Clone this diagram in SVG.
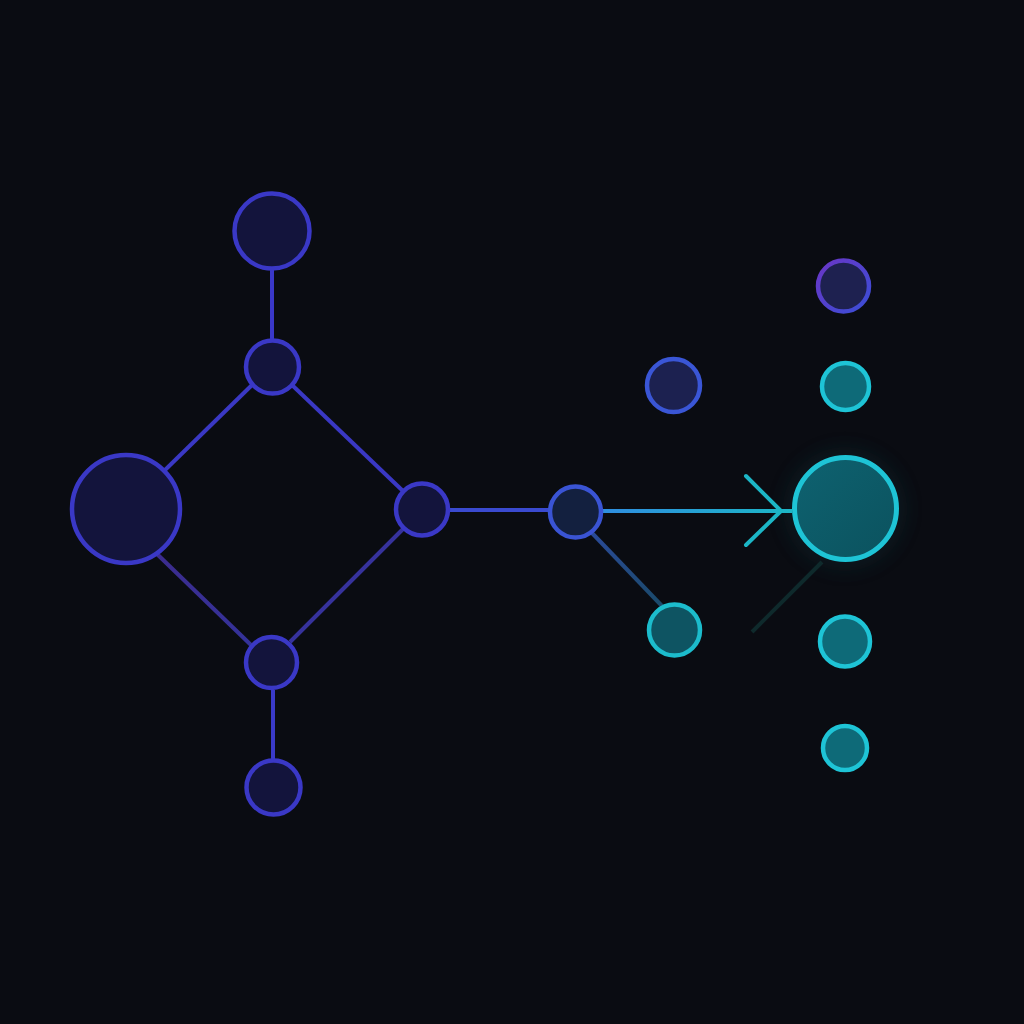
<svg xmlns="http://www.w3.org/2000/svg" width="1024" height="1024" viewBox="0 0 1024 1024">
  <defs>
    <linearGradient id="gArrow" x1="603" y1="0" x2="790" y2="0" gradientUnits="userSpaceOnUse">
      <stop offset="0" stop-color="#2f8ee0"/>
      <stop offset="1" stop-color="#1cb6c6"/>
    </linearGradient>
    <linearGradient id="gGI" x1="592" y1="533" x2="662" y2="605" gradientUnits="userSpaceOnUse">
      <stop offset="0" stop-color="#2a4a98"/>
      <stop offset="1" stop-color="#1a4a6a"/>
    </linearGradient>
    <linearGradient id="gCE" x1="157" y1="555" x2="250" y2="644" gradientUnits="userSpaceOnUse">
      <stop offset="0" stop-color="#3c2c8e"/>
      <stop offset="1" stop-color="#34329a"/>
    </linearGradient>
    <linearGradient id="gL" x1="0" y1="0" x2="1" y2="1">
      <stop offset="0" stop-color="#6a36c6"/>
      <stop offset="1" stop-color="#3a4ed6"/>
    </linearGradient>
    <linearGradient id="gH" x1="0" y1="0" x2="1" y2="1">
      <stop offset="0" stop-color="#0e6270"/>
      <stop offset="1" stop-color="#0b525e"/>
    </linearGradient>
    <filter id="glow" x="-50%" y="-50%" width="200%" height="200%">
      <feGaussianBlur stdDeviation="8"/>
    </filter>
  </defs>
  <style>
    .edge { fill: none; stroke-width: 4; stroke-linecap: butt; }
    .ind { fill: #13143c; stroke: #3a38c6; stroke-width: 4.5; }
    .blue { fill: #1c2150; stroke: #3a56d6; stroke-width: 4.5; }
    .cyan { fill: #0e6a78; stroke: #1ec4d6; stroke-width: 4.5; }
  </style>
  <rect width="1024" height="1024" fill="#0a0c12"/>

  <circle cx="845" cy="509" r="62" fill="#0c2e36" opacity="0.3" filter="url(#glow)"/>

  <g id="connectors">
    <line class="edge" x1="272" y1="270" x2="272" y2="340" stroke="#3a38c8"/>
    <line class="edge" x1="252" y1="385" x2="164" y2="471" stroke="#3a38c4"/>
    <line class="edge" x1="292" y1="385" x2="404" y2="492" stroke="#3a38c4"/>
    <line class="edge" x1="157" y1="554" x2="251" y2="645" stroke="url(#gCE)"/>
    <line class="edge" x1="404" y1="528" x2="290" y2="642" stroke="#36329c"/>
    <line class="edge" x1="273" y1="690" x2="273" y2="760" stroke="#3a3ac8"/>
    <line class="edge" x1="450" y1="510" x2="549" y2="510" stroke="#3a4ad0"/>
    <line class="edge" x1="592" y1="533" x2="662" y2="606" stroke="url(#gGI)"/>
    <line class="edge" x1="822" y1="562" x2="752" y2="632" stroke="#0f2a2c" stroke-width="3"/>
    <line class="edge" x1="603" y1="511" x2="792" y2="511" stroke="url(#gArrow)"/>
    <polyline points="746,476 781,511 746,545" fill="none" stroke="#1cb6c6" stroke-width="4" stroke-linecap="round" stroke-linejoin="round"/>
  </g>

  <g id="nodeA"><circle class="ind" cx="272" cy="231" r="37.5" fill="#131652"/></g>
  <g id="nodeB"><circle class="ind" cx="272.5" cy="367" r="26.5"/></g>
  <g id="nodeC"><circle class="ind" cx="126" cy="509" r="54" fill="#14133c"/></g>
  <g id="nodeD"><circle class="ind" cx="422" cy="509.5" r="26"/></g>
  <g id="nodeE"><circle class="ind" cx="271.5" cy="662.5" r="25.5"/></g>
  <g id="nodeF"><circle class="ind" cx="273.5" cy="787.5" r="27"/></g>
  <g id="nodeG"><circle cx="575.5" cy="512" r="25.5" fill="#13203f" stroke="#3a54d4" stroke-width="4.5"/></g>
  <g id="nodeH"><circle cx="845.5" cy="508.5" r="51" fill="url(#gH)" stroke="#1ec4d6" stroke-width="5"/></g>
  <g id="nodeI"><circle cx="674.5" cy="630" r="25.5" fill="#0e5462" stroke="#1cbccc" stroke-width="4.5"/></g>
  <g id="nodeJ"><circle class="cyan" cx="845" cy="641.5" r="25" fill="#0e6a76"/></g>
  <g id="nodeK"><circle class="cyan" cx="845" cy="748" r="22" fill="#0e6670" stroke="#1cbccc"/></g>
  <g id="nodeL"><circle cx="843.5" cy="286" r="25.5" fill="#1e2150" stroke="url(#gL)" stroke-width="4.5"/></g>
  <g id="nodeM"><circle class="cyan" cx="845.5" cy="386.5" r="23.5" fill="#0f6a7e"/></g>
  <g id="nodeN"><circle class="blue" cx="673.5" cy="385.5" r="26.5"/></g>
</svg>
